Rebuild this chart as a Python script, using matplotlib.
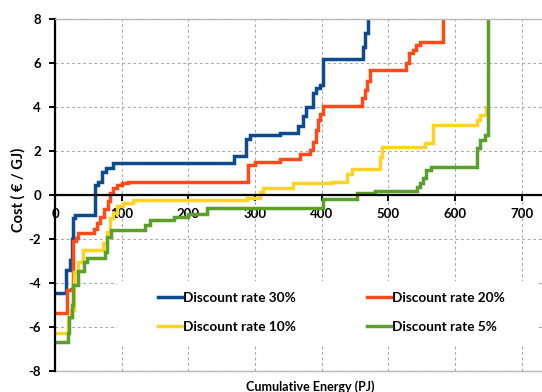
import matplotlib
matplotlib.use("Agg")
import matplotlib.pyplot as plt
from matplotlib.patches import Rectangle

plt.rcParams['font.family'] = ['Lato', 'DejaVu Sans']
plt.rcParams['font.weight'] = 'bold'

# Cost curves: cumulative energy (PJ) where each step starts, and cost (EUR/GJ)
rate30_x = [0, 17, 22, 26, 27.5, 30, 60, 65, 71, 77, 87, 269, 287, 292, 337, 365,
            372, 377, 387, 392, 397, 401.5, 461.5, 465, 469]
rate30_y = [-4.45, -3.4, -2.95, -2.0, -1.05, -0.92, 0.45, 0.6, 1.06, 1.25, 1.44,
            1.77, 2.53, 2.74, 2.83, 3.14, 3.6, 4.0, 4.62, 4.85, 5.0, 6.2, 6.74,
            7.35, 8.5]

rate20_x = [0, 17.5, 24, 27, 31, 35, 59, 63, 68, 74, 79, 82.5, 87.5, 92.5, 100, 110,
            290, 300, 337, 367, 382, 387, 391, 395, 398, 402, 461, 465, 468, 472,
            527, 531, 537, 542, 547, 582.5]
rate20_y = [-5.38, -4.32, -4.25, -2.1, -1.97, -1.72, -1.55, -1.29, -0.98, -0.65,
            -0.25, 0.08, 0.3, 0.45, 0.53, 0.6, 1.36, 1.48, 1.64, 1.85, 2.05, 2.42,
            2.95, 3.41, 3.7, 4.05, 4.4, 4.77, 5.2, 5.68, 5.98, 6.44, 6.6, 6.8,
            6.97, 8.5]

rate10_x = [0, 19, 24, 29, 35, 42.5, 72.5, 77.5, 82.5, 87.5, 92.5, 102, 117, 288,
            307, 312, 357.5, 415, 438, 445, 487.5, 491, 555, 567.5, 632.5, 637, 646]
rate10_y = [-6.26, -5.6, -5.23, -3.49, -3.03, -2.5, -2.2, -1.67, -1.06, -0.8, -0.5,
            -0.38, -0.23, -0.15, 0.15, 0.3, 0.55, 0.6, 0.95, 1.2, 1.74, 2.2, 2.38,
            3.18, 3.4, 3.64, 4.0]

rate5_x = [0, 19, 21, 25, 27.5, 35, 44, 47.5, 75, 78, 83.5, 135, 142.5, 178, 200,
           227.5, 402.5, 453.5, 480, 542.5, 547, 552, 557, 563.5, 632.5, 637, 645,
           650]
rate5_y = [-6.67, -6.29, -5.53, -5.0, -4.09, -3.45, -3.03, -2.85, -2.58, -1.9,
           -1.59, -1.36, -1.14, -1.0, -0.85, -0.61, -0.18, 0.1, 0.17, 0.38, 0.53,
           0.76, 1.14, 1.29, 2.12, 2.5, 2.73, 8.5]

series_labels = ['Discount rate 30%', 'Discount rate 20%',
                 'Discount rate 10%', 'Discount rate 5%']
series_colors = ['#0E4A8E', '#FF4A1A', '#FFD324', '#5AA02A']
x_ticks = [0, 100, 200, 300, 400, 500, 600, 700]
y_ticks = [-8, -6, -4, -2, 0, 2, 4, 6, 8]

W, H = 542, 392
fig = plt.figure(figsize=(W / 100, H / 100), dpi=100)
ax = fig.add_axes([55 / W, 21 / H, 510 / W, 352 / H])
ax.set_xlim(0, 765)
ax.set_ylim(-8, 8)

ax.set_axisbelow(True)
ax.grid(True, color='#a8a8a8', linewidth=0.8, linestyle=(0, (2.5, 2.5)))

# axes frame: black cost axis and zero line, grey plot-area border
ax.spines['bottom'].set_position(('data', 0))
ax.spines['bottom'].set_color('black')
ax.spines['bottom'].set_linewidth(1.6)
ax.spines['left'].set_color('black')
ax.spines['left'].set_linewidth(1.6)
ax.spines['top'].set_color('#b8b8b8')
ax.spines['top'].set_linewidth(1.0)
ax.spines['right'].set_visible(False)
ax.axhline(-8, color='#b8b8b8', linewidth=1.0, clip_on=False, zorder=0.6)

ax.set_xticks(x_ticks)
ax.set_yticks(y_ticks)
ax.set_xticklabels([str(v) for v in x_ticks])
ax.set_yticklabels([str(v) for v in y_ticks])
ax.tick_params(axis='x', direction='out', length=4, width=1.4, pad=5,
               labelsize=9.5, colors='black')
ax.tick_params(axis='y', direction='out', length=4, width=1.4, pad=6,
               labelsize=9.5, colors='black')

# legend background
ax.add_patch(Rectangle((93, -6.77), 630, 2.86, facecolor='white',
                       edgecolor='none', zorder=1))

lines = []
for xs, ys, lab, col in zip([rate30_x, rate20_x, rate10_x, rate5_x],
                            [rate30_y, rate20_y, rate10_y, rate5_y],
                            series_labels, series_colors):
    ln, = ax.plot(xs, ys, drawstyle='steps-post', color=col, linewidth=2.5,
                  label=lab, zorder=2, solid_joinstyle='miter')
    lines.append(ln)

leg = ax.legend([lines[0], lines[2], lines[1], lines[3]],
                [series_labels[0], series_labels[2], series_labels[1], series_labels[3]],
                ncol=2, frameon=False, loc='upper left',
                bbox_to_anchor=(151 / W, 1 - 285 / H), bbox_transform=fig.transFigure,
                borderpad=0, handlelength=1.8, handletextpad=0.05,
                columnspacing=5.2, labelspacing=1.27,
                prop={'size': 9.8, 'weight': 'bold'})
leg.set_zorder(5)

fig.text(18 / W, 1 - 190 / H, 'Cost ( € / GJ)', rotation=90, ha='center',
         va='center', fontsize=10.5, fontweight='bold')
fig.text(310 / W, 1.5 / H, 'Cumulative Energy (PJ)', ha='center',
         va='baseline', fontsize=9, fontweight='bold')

fig.savefig('out.png', dpi=100)
